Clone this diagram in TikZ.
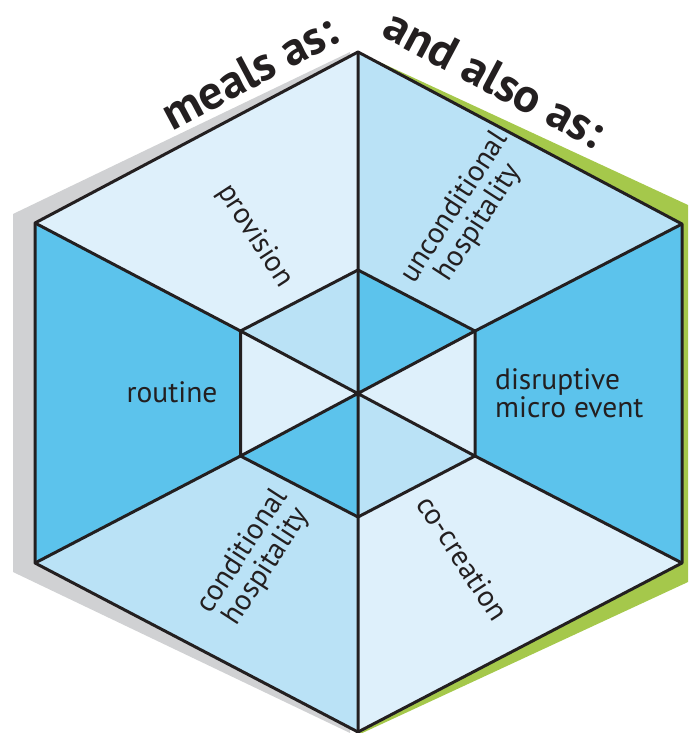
\documentclass[tikz,border=0pt]{standalone}
\usepackage{fontspec}
\setmainfont{PT Sans}
\definecolor{vlight}{HTML}{DEF0FB}
\definecolor{lightb}{HTML}{BAE2F6}
\definecolor{medb}{HTML}{5CC3EC}
\definecolor{shgrey}{HTML}{D0D1D3}
\definecolor{shgreen}{HTML}{A5C84B}
\definecolor{ink}{HTML}{231F20}
\begin{document}
\begin{tikzpicture}[x=1pt,y=-1pt,
  edge/.style={line width=3pt, line join=round, draw=ink},
  lbl/.style={font=\fontsize{29.5}{28.5}\selectfont, text=ink, align=center, inner sep=0pt},
  title/.style={font=\bfseries\fontsize{48}{48}\selectfont, text=ink, inner sep=0pt}]
\useasboundingbox (0,0) rectangle (688,733);
% vertices
\coordinate (OT) at (358,52);
\coordinate (OUL) at (35,223);
\coordinate (OUR) at (682,224);
\coordinate (OLL) at (35,563);
\coordinate (OLR) at (682,563);
\coordinate (OB) at (358,732);
\coordinate (IT) at (358,270);
\coordinate (IUL) at (240.5,331);
\coordinate (IUR) at (475,331);
\coordinate (ILL) at (240.5,456);
\coordinate (ILR) at (475,456);
\coordinate (IB) at (358,517);
\coordinate (C) at (358,393);
% shadows
\fill[shgrey] (350,52) -- (13,214) -- (13,572) -- (350,733) -- cycle;
\fill[shgreen] (358,52) -- (688,205) -- (688,582) -- (358,735) -- cycle;
% outer faces
\fill[vlight] (OT) -- (OUL) -- (IUL) -- (IT) -- cycle;
\fill[lightb] (OT) -- (OUR) -- (IUR) -- (IT) -- cycle;
\fill[medb] (OUR) -- (OLR) -- (ILR) -- (IUR) -- cycle;
\fill[vlight] (OLR) -- (OB) -- (IB) -- (ILR) -- cycle;
\fill[lightb] (OB) -- (OLL) -- (ILL) -- (IB) -- cycle;
\fill[medb] (OLL) -- (OUL) -- (IUL) -- (ILL) -- cycle;
% inner triangles
\fill[lightb] (IT) -- (IUL) -- (C) -- cycle;
\fill[medb] (IT) -- (IUR) -- (C) -- cycle;
\fill[vlight] (IUR) -- (ILR) -- (C) -- cycle;
\fill[lightb] (ILR) -- (IB) -- (C) -- cycle;
\fill[medb] (IB) -- (ILL) -- (C) -- cycle;
\fill[vlight] (ILL) -- (IUL) -- (C) -- cycle;
% outlines
\draw[edge] (OT) -- (OUR) -- (OLR) -- (OB) -- (OLL) -- (OUL) -- cycle;
\draw[edge] (IT) -- (IUR) -- (ILR) -- (IB) -- (ILL) -- (IUL) -- cycle;
\draw[edge] (OT) -- (IT) (OUR) -- (IUR) (OLR) -- (ILR) (OB) -- (IB) (OLL) -- (ILL) (OUL) -- (IUL);
\draw[edge] (IT) -- (IB) (IUL) -- (ILR) (IUR) -- (ILL);
% labels
\node[lbl] (routine) at (172,392) {routine};
\node[lbl, align=left, anchor=west] (disr) at (495,393) {disruptive\\micro event};
\node[lbl, rotate=-57] (prov) at (255,236) {provision};
\node[lbl, rotate=57] (uncond) at (467,215) {unconditional\\hospitality};
\node[lbl, rotate=57] (cond) at (255,559) {conditional\\hospitality};
\node[lbl, rotate=-57] (cocr) at (463,558) {co-creation};
% titles
\node[title, rotate=28] (meals) at (249,72) {meals as:};
\node[title, rotate=-28] (also) at (495,78) {and also as:};
\end{tikzpicture}
\end{document}
